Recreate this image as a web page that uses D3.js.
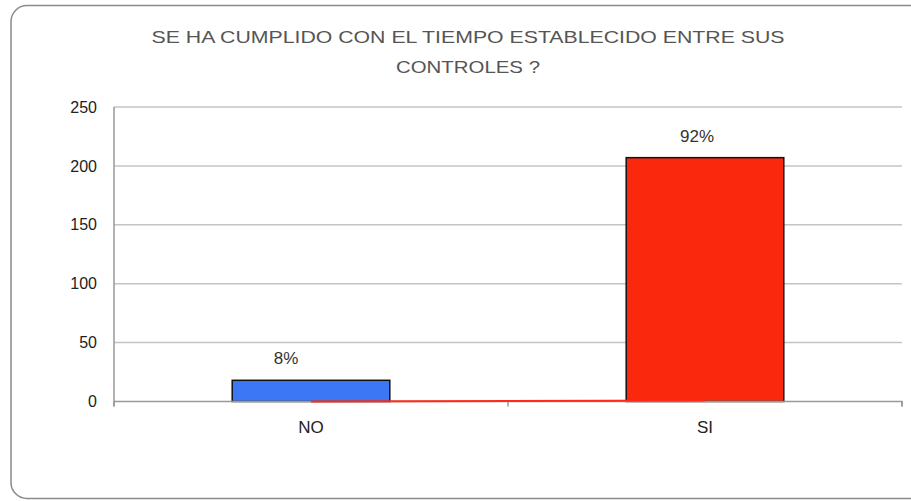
<!DOCTYPE html>
<html>
<head>
<meta charset="utf-8">
<script src="https://cdn.jsdelivr.net/npm/d3@7"></script>
<style>
  html, body { margin: 0; padding: 0; background: #fff; }
  svg { display: block; font-family: "Liberation Sans", Arial, sans-serif; }
</style>
</head>
<body>
<svg id="chart" width="911" height="501"></svg>
<script>
// Survey answers: counts per answer and their share of the total
const categories = ["NO", "SI"];
const counts = [18, 207];
const shares = [0.08, 0.92];
const shareLabels = ["8%", "92%"];
const yTicks = [0, 50, 100, 150, 200, 250];
const titleLines = ["SE HA CUMPLIDO CON EL TIEMPO ESTABLECIDO ENTRE SUS", "CONTROLES ?"];
const barColors = ["#3c78f5", "#fa280c"];

const svg = d3.select("#chart");
const plot = { left: 114, right: 902, top: 107, bottom: 401.5 };

// Frame
svg.append("rect")
  .attr("x", 11).attr("y", 5.5)
  .attr("width", 940).attr("height", 493)
  .attr("rx", 16).attr("ry", 16)
  .attr("fill", "#fff")
  .attr("stroke", "#8a8a8a")
  .attr("stroke-width", 1.5);

// Title (two centred lines, set to a fixed run width)
const titleWidths = [633, 144];
svg.append("g").selectAll("text")
  .data(titleLines)
  .join("text")
  .attr("x", 468)
  .attr("y", (d, i) => 43 + i * 30)
  .attr("text-anchor", "middle")
  .attr("fill", "#555")
  .attr("font-size", 17)
  .attr("textLength", (d, i) => titleWidths[i])
  .attr("lengthAdjust", "spacingAndGlyphs")
  .text(d => d);

const x = d3.scaleBand()
  .domain(categories)
  .range([plot.left, plot.right])
  .paddingInner(0).paddingOuter(0);

const y = d3.scaleLinear()
  .domain([0, 250])
  .range([plot.bottom, plot.top]);

// Horizontal gridlines
svg.append("g").selectAll("line")
  .data(yTicks.filter(t => t > 0))
  .join("line")
  .attr("x1", plot.left).attr("x2", plot.right)
  .attr("y1", d => y(d)).attr("y2", d => y(d))
  .attr("stroke", "#c4c4c4")
  .attr("stroke-width", 1.5);

// Y axis
const yAxis = svg.append("g")
  .attr("transform", `translate(${plot.left},0)`)
  .call(d3.axisLeft(y).tickValues(yTicks).tickSize(4).tickPadding(13));
yAxis.select(".domain").attr("stroke", "#999").attr("stroke-width", 1.5)
  .attr("d", `M0,${plot.top}V${plot.bottom + 5}`);
yAxis.selectAll(".tick line").attr("stroke", "#999").attr("x2", 0);
yAxis.selectAll(".tick text")
  .attr("font-size", 16).attr("fill", "#222")
  .attr("font-family", "Liberation Sans, Arial, sans-serif");

// Bars
const barW = x.bandwidth() * 0.4;
svg.append("g").selectAll("rect")
  .data(categories)
  .join("rect")
  .attr("x", d => x(d) + x.bandwidth() / 2 - barW / 2)
  .attr("y", (d, i) => y(counts[i]))
  .attr("width", barW)
  .attr("height", (d, i) => y(0) - y(counts[i]))
  .attr("fill", (d, i) => barColors[i])
  .attr("stroke", "#111")
  .attr("stroke-width", 1.5);

// X axis
const xAxis = svg.append("g")
  .attr("transform", `translate(0,${plot.bottom})`)
  .call(d3.axisBottom(x).tickSize(0).tickPadding(19));
xAxis.select(".domain").attr("stroke", "#999").attr("stroke-width", 1.5)
  .attr("d", `M${plot.left},0H${plot.right}V5`);
xAxis.selectAll(".tick text")
  .attr("font-size", 17).attr("fill", "#222")
  .attr("font-family", "Liberation Sans, Arial, sans-serif");
// Category boundary ticks
svg.append("g").selectAll("line")
  .data([x.range()[0], x(categories[1]), x.range()[1]])
  .join("line")
  .attr("x1", d => d).attr("x2", d => d)
  .attr("y1", plot.bottom).attr("y2", plot.bottom + 5)
  .attr("stroke", "#999").attr("stroke-width", 1.5);

// Share series drawn as a line on the same axis
const line = d3.line()
  .x((d, i) => x(categories[i]) + x.bandwidth() / 2)
  .y(d => y(d));
svg.append("path")
  .datum(shares)
  .attr("d", line)
  .attr("fill", "none")
  .attr("stroke", "#ff2a1a")
  .attr("stroke-width", 2);

// Percentage labels above bars
const labelShift = [-25, -8];
svg.append("g").selectAll("text")
  .data(shareLabels)
  .join("text")
  .attr("x", (d, i) => x(categories[i]) + x.bandwidth() / 2 + labelShift[i])
  .attr("y", (d, i) => y(counts[i]) - 16)
  .attr("text-anchor", "middle")
  .attr("font-size", 17)
  .attr("fill", "#333")
  .text(d => d);
</script>
</body>
</html>
